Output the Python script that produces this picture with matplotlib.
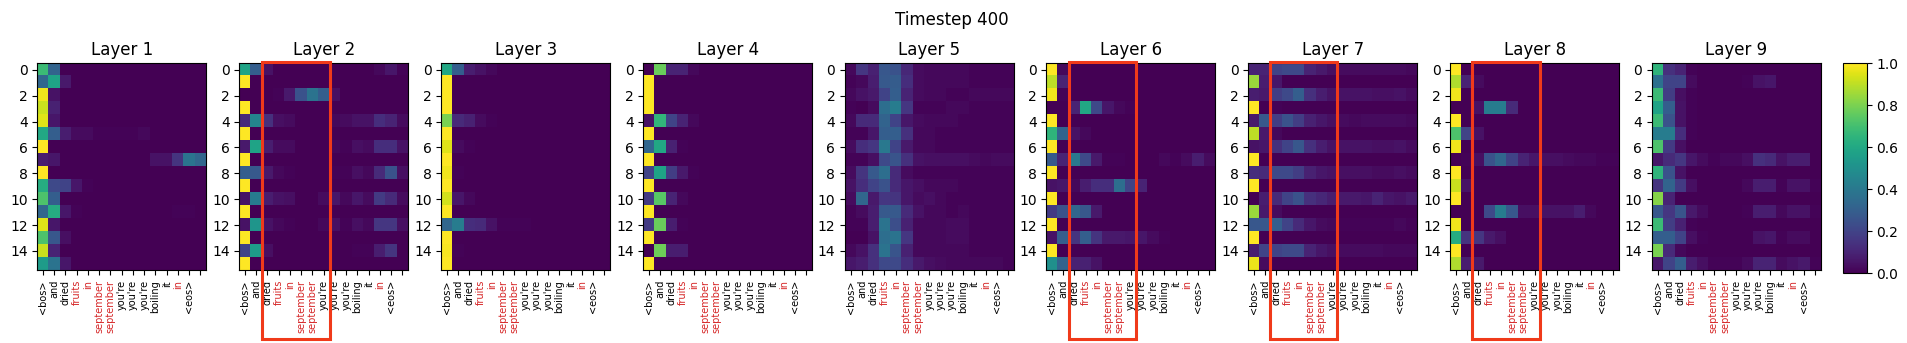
#!/usr/bin/env python3
"""Cross attention maps per layer at one timestep."""

import matplotlib
matplotlib.use("Agg")
import matplotlib.pyplot as plt
from matplotlib.patches import Rectangle
import numpy as np

tokens = ["<bos>", "and", "dried", "fruits", "in", "september", "september",
          "you're", "you're", "you're", "boiling", "it", "in", "<eos>", ""]
red_tokens = [3, 4, 5, 6, 12]
row_ticks = [0, 2, 4, 6, 8, 10, 12, 14]

# rows hold the leading columns only, the rest is zero
layer1 = [
    [.68, .32], [.33, .58, .07], [.98, .05], [.92, .09], [.95, .06],
    [.6, .3, .08, .03, .03, .01, .01, .01, .01, .02], [1.0],
    [.08, .06, 0, 0, 0, 0, 0, 0, 0, 0, .05, .05, .15, .38, .33],
    [1.0], [.62, .22, .2, .06, .01], [.72, .3],
    [.33, .62, .06, .01, 0, 0, 0, 0, 0, 0, 0, 0, .01, .01],
    [.95, .06], [.72, .27, .04], [.92, .1], [.55, .38, .06],
]
layer2 = [
    [.58, .3, .05, 0, 0, 0, 0, 0, 0, 0, 0, 0, .02, .06, .01], [1.0],
    [0, 0, 0, .01, .07, .25, .38, .3, .04], [1.0],
    [.12, .45, .14, .04, .03, 0, 0, 0, .02, .03, .05, .05, .13, .1, .03], [1.0],
    [.07, .58, .08, .03, .03, 0, 0, 0, .02, .01, .04, .03, .13, .13, .05], [1.0],
    [.3, .28, .07, .02, .01, 0, 0, 0, .01, .01, .04, .02, .12, .25, .04], [1.0],
    [.05, .42, .08, .05, .04, 0, 0, .03, .06, .02, .06, .03, .17, .12, .03], [1.0],
    [.05, .52, .05, .02, .01, 0, 0, .02, .04, .01, .04, .02, .16, .16, .04], [1.0],
    [.2, .55, .04, 0, 0, 0, 0, 0, 0, 0, .01, .01, .08, .15], [1.0],
]
layer3 = [
    [.6, .3, .08, .05, .02], [1.0], [1.0], [1.0],
    [.8, .12, .09, .03, .01], [1.0], [.95, .03, .01], [1.0],
    [.98, .01], [1.0], [.93, .06, .02], [1.0],
    [.33, .42, .13, .12, .05, .01, .01, .01], [1.0], [.99, .01], [1.0],
]
layer4 = [
    [0, .77, .1, .1, .02], [1.0], [1.0], [1.0],
    [.05, .66, .2, .1, .02], [1.0], [.33, .6, .09, .01], [1.0],
    [.2, .58, .18, .07, .01], [1.0], [.17, .74, .1, .02], [1.0],
    [.17, .77, .08, .01], [1.0], [0, .78, .08, .08], [1.0],
]
layer5 = [
    [.02, .16, .09, .27, .25, .11, .03, .02, .02, .02, .02, .01, .01, .01, .01],
    [.01, .02, .08, .28, .29, .13, .03, .02, .02, .02, .02, .01, .01, .01, .01],
    [.02, .05, .07, .2, .3, .1, .03, .02, .02, .01, .01, .02, .02, .02, .02],
    [.01, 0, .03, .36, .42, .16, .01, .01, .01, .02, .02, .01, .01, .01, .01],
    [.02, .12, .12, .32, .2, .06, .03, .02, .02, .02, .01, .01, .01, .01, .01],
    [.01, .01, .06, .3, .3, .14, .02, .02, .01, .01, .01, .01, .01, .01, .01],
    [.03, .13, .16, .4, .2, .07, .02, .02, .01, .01, .01, .01, .01, .01, .01],
    [.01, .01, .04, .22, .26, .14, .05, .04, .04, .04, .04, .03, .02, .03, .03],
    [.03, .15, .28, .36, .12, .03, .01, .01, .01, .01, .01, .01, .01, .01, .01],
    [.05, .13, .2, .25, .12, .06, .04, .02, .02, .02, .01, .01, .01, .01, .01],
    [.03, .33, .07, .16, .15, .06, .03, .04, .02, .01, .01, .01, .01, .01, .01],
    [.01, .03, .08, .28, .28, .12, .05, .02, .02, .01, .02, .01, .01, .01, .01],
    [.01, .01, .08, .38, .24, .09, .02, .02, .02, .03, .03, .01, .01, .01, .01],
    [0, 0, .05, .36, .38, .16, .02, .02, .02, .03, .03, .01, .01, .01, .01],
    [.02, .05, .14, .38, .26, .09, .02, .02, .02, .02, .02, .01, .01, .01, .01],
    [.06, .08, .14, .22, .22, .13, .07, .04, .03, .02, .02, .02, .02, .02, .01],
]
layer6 = [
    [1.0, .02], [.9, .1], [.98, .01], [0, 0, .1, .6, .22, .06, .02, .01], [1.0],
    [.65, .32, .05, .02], [1.0],
    [.28, .1, .4, .22, .07, .01, .01, 0, 0, 0, .02, .01, .03, .08, .03], [1.0],
    [.05, .06, .02, .08, .13, .13, .36, .2, .1], [1.0],
    [.17, .25, .33, .27, .07], [1.0],
    [.05, .3, .15, .3, .15, .07, .07, .06, .06, .03, .01], [1.0],
    [.5, .32, .09, .09, .05],
]
layer7 = [
    [.1, .1, .2, .22, .22, .1, .07, .04, .03, .03, .03, .03, .03, .03, .02],
    [.85, .08, .06],
    [.08, .07, .18, .22, .3, .14, .08, .05, .05, .05, .05, .04, .04, .05, .03],
    [1.0, 0, .01],
    [.07, .28, .18, .25, .18, .09, .06, .04, .03, .02, .03, .03, .03, .03, .02],
    [.9, .07, .02],
    [.05, .06, .14, .2, .27, .14, .08, .05, .05, .05, .05, .04, .04, .05, .03],
    [1.0],
    [.13, .12, .22, .22, .18, .09, .06, .05, .04, .04, .04, .03, .03, .04, .03],
    [1.0],
    [0, .08, .12, .2, .25, .14, .11, .08, .07, .07, .06, .1, .06, .05, .07],
    [.85, .07, .03],
    [.27, .27, .3, .2, .12, .06, .03, .02, .01, .01, .01, .01, .01, .02, .01],
    [1.0],
    [.08, .2, .2, .22, .22, .1, .06, .04, .03, .03, .03, .03, .02, .02, .02],
    [.97, .03],
]
layer8 = [
    [1.0], [.88, .1, .03], [.98], [0, 0, .05, .42, .42, .12], [1.0],
    [.72, .2, .05], [.98],
    [0, .01, .04, .25, .33, .2, .1, .06, .04, .04, .03, .02, .02, .01, .01],
    [1.0], [.92, .05], [1.0],
    [0, 0, 0, .22, .42, .27, .04, .04, .05, .05, .05, .08, .02],
    [.98], [.62, .15, .16, .07, .04], [1.0], [.88, .08, .07],
]
layer9 = [
    [.65, .14, .1, .01],
    [.37, .2, .2, .03, 0, 0, 0, 0, .01, .05, .06],
    [.68, .18, .04, .01], [.58, .3, .05, .01], [.68, .25, .05, .01],
    [.42, .42, .13, .01], [.72, .17, .04],
    [.06, .12, .16, .06, .03, .01, .02, .02, .04, .14, .12, .05, .08, .08],
    [.65, .25, .05],
    [.15, .32, .17, .04, 0, 0, 0, 0, .02, .08, .08, .01, .05, .05, .01],
    [.82, .1],
    [.27, .16, .26, .07, .03, 0, 0, 0, .01, .08, .08, .02, .05, .05, .01],
    [.68, .18, .09, .01],
    [.3, .3, .2, .04, .01, 0, 0, 0, 0, .05, .06, .01, .03, .03],
    [.8, .12, .02],
    [.06, .2, .3, .08, .04, .01, .01, .01, .03, .1, .1, .03, .05, .07, .01],
]
layers = [layer1, layer2, layer3, layer4, layer5, layer6, layer7, layer8, layer9]

# x start/stop of the highlight box, by layer index
boxes = {1: (1.5, 7.52), 5: (1.5, 7.45), 6: (1.4, 7.42), 7: (1.42, 7.5)}
BOX_COLOR = "#f03a1a"

W, H = 1907.0, 343.0
AX_LEFT = [37.3, 239.3, 441.3, 643.3, 845.0, 1046.3, 1248.3, 1450.3, 1652.0]
AX_W = 168.8
AX_TOP = 63.3
AX_BOTTOM = 270.3


def to_grid(rows):
    grid = np.zeros((16, 15))
    for i, row in enumerate(rows):
        grid[i, :len(row)] = row
    return grid


fig = plt.figure(figsize=(W / 100, H / 100), dpi=100)

for n, rows in enumerate(layers):
    ax = fig.add_axes([AX_LEFT[n] / W, 1 - AX_BOTTOM / H, AX_W / W, (AX_BOTTOM - AX_TOP) / H])
    im = ax.imshow(to_grid(rows), cmap="viridis", vmin=0, vmax=1, aspect="auto")
    ax.set_title(f"Layer {n + 1}")
    ax.set_yticks(row_ticks)
    ax.set_xticks(range(len(tokens)))
    ax.set_xticklabels(tokens, rotation=90, fontsize=7)
    for idx in red_tokens:
        ax.get_xticklabels()[idx].set_color("tab:red")
    if n in boxes:
        x0, x1 = boxes[n]
        ax.add_patch(Rectangle((x0, -0.62), x1 - x0, 21.45, fill=False, edgecolor=BOX_COLOR,
                               linewidth=2.2, clip_on=False, zorder=5))

cax = fig.add_axes([1843.3 / W, 1 - 273.3 / H, 23.4 / W, 210.0 / H])
fig.colorbar(im, cax=cax)

fig.suptitle("Timestep 400", x=952 / W, y=1 - 11 / H, fontsize=12)
fig.savefig("out.png", dpi=100)
